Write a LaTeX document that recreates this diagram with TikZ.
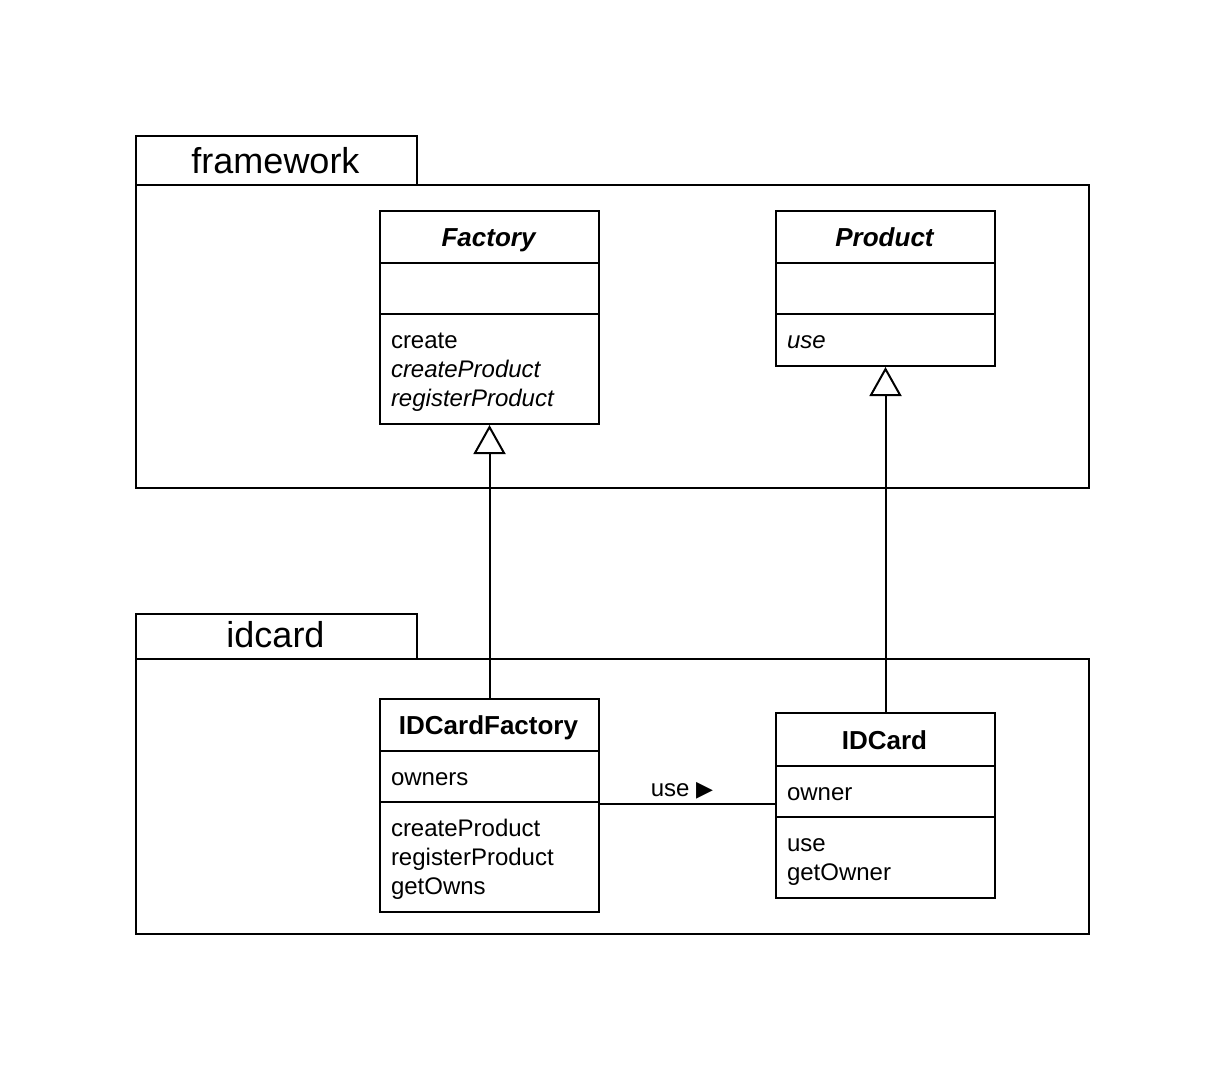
\documentclass[tikz,border=0pt]{standalone}
\usepackage{fontspec}
\setmainfont{Liberation Sans}
\newfontfamily\symfont{DejaVu Sans}
\usetikzlibrary{arrows.meta}
\begin{document}
\begin{tikzpicture}[x=1pt,y=-1pt,line width=2pt,
  pkg/.style={draw,line width=2pt,inner sep=0pt,anchor=north west},
  cls/.style={draw,line width=2pt,inner sep=0pt,anchor=north west,minimum width=219pt},
  pkgname/.style={anchor=base,inner sep=0pt,font=\fontsize{36}{40}\selectfont},
  title/.style={anchor=base,inner sep=0pt,font=\fontsize{26}{30}\selectfont\bfseries},
  member/.style={anchor=base west,inner sep=0pt,font=\fontsize{24}{29}\selectfont},
  inherit/.style={-{Triangle[open,length=29pt,width=32pt,line width=2pt]}},
]
\useasboundingbox (0,0) rectangle (1224,1068);

% packages
\node[pkg,minimum width=281pt,minimum height=49pt] (fwtab) at (135,135) {};
\node[pkg,minimum width=953pt,minimum height=303pt] (fw) at (135,184) {};
\node[pkgname] (fwname) at (275.5,173) {framework};

\node[pkg,minimum width=281pt,minimum height=45pt] (idtab) at (135,613) {};
\node[pkg,minimum width=953pt,minimum height=275pt] (id) at (135,658) {};
\node[pkgname] (idname) at (275.5,647) {idcard};

% Factory
\node[cls,minimum height=213pt] (factory) at (379,210) {};
\draw (379,263) -- (598,263);
\draw (379,314) -- (598,314);
\node[title] (factoryT) at (488.5,246) {\itshape Factory};
\node[member] (f1) at (390,348) {create};
\node[member] (f2) at (390,377) {\itshape createProduct};
\node[member] (f3) at (390,406) {\itshape registerProduct};

% Product
\node[cls,minimum height=155pt] (product) at (775,210) {};
\draw (775,263) -- (994,263);
\draw (775,314) -- (994,314);
\node[title] (productT) at (884.5,246) {\itshape Product};
\node[member] (p1) at (786,348) {\itshape use};

% IDCardFactory
\node[cls,minimum height=213pt] (idf) at (379,698) {};
\draw (379,751) -- (598,751);
\draw (379,802) -- (598,802);
\node[title] (idfT) at (488.5,734) {IDCardFactory};
\node[member] (i0) at (390,785) {owners};
\node[member] (i1) at (390,836) {createProduct};
\node[member] (i2) at (390,865) {registerProduct};
\node[member] (i3) at (390,894) {getOwns};

% IDCard
\node[cls,minimum height=185pt] (idc) at (775,712) {};
\draw (775,766) -- (994,766);
\draw (775,817) -- (994,817);
\node[title] (idcT) at (884.5,749) {IDCard};
\node[member] (c0) at (786,800) {owner};
\node[member] (c1) at (786,851) {use};
\node[member] (c2) at (786,880) {getOwner};

% connectors
\draw[inherit] (idf.north) -- (factory.south);
\draw[inherit] (idc.north) -- (product.south);
\coordinate (assocA) at (598,804);
\coordinate (assocB) at (775,804);
\draw (assocA) -- (assocB);
\node[anchor=base,inner sep=0pt,font=\fontsize{24}{29}\selectfont] (uselabel) at (682,796) {use {\symfont\fontsize{22}{24}\selectfont ▶}};
\end{tikzpicture}
\end{document}
